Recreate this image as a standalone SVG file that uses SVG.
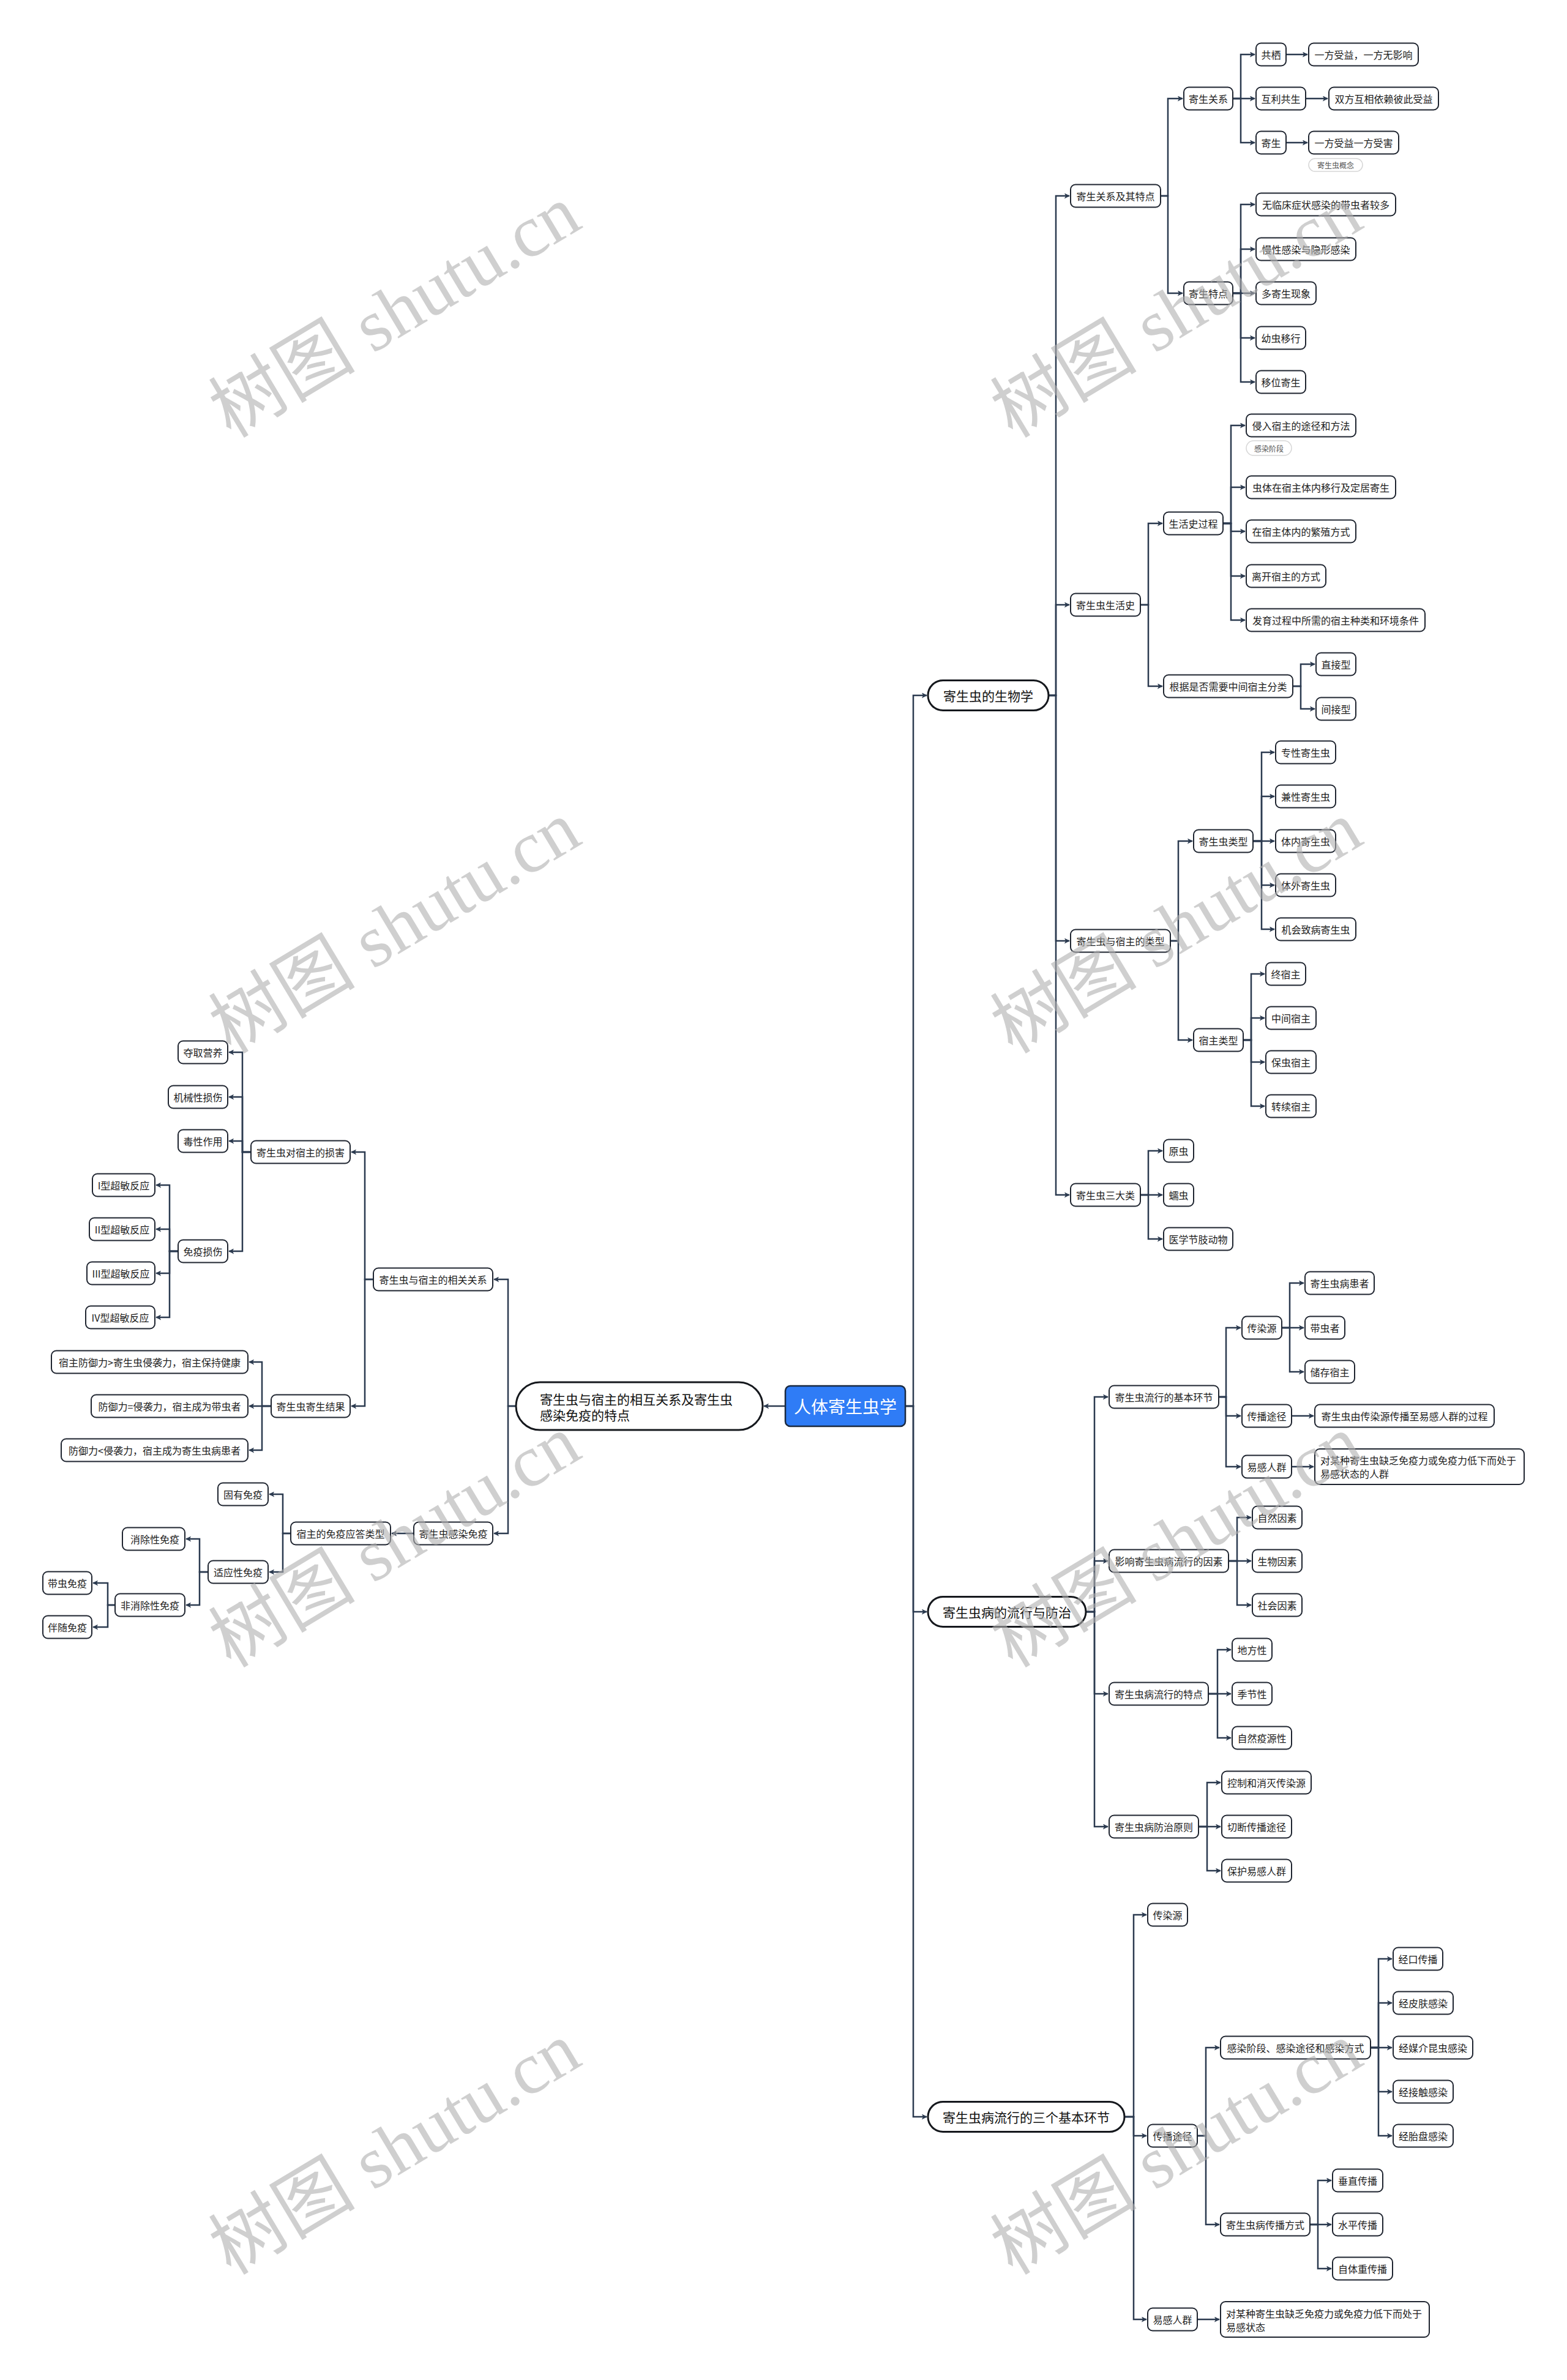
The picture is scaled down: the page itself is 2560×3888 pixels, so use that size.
<svg xmlns="http://www.w3.org/2000/svg" width="2560" height="3888" viewBox="0 0 2560 3888">
<style>
.n{fill:#fff;stroke:#1f2530;stroke-width:2}
.p{fill:#fff;stroke:#15181d;stroke-width:3}
.t{font-family:"Noto Sans CJK SC","Noto Sans",sans-serif;font-size:16px;fill:#1c1c1c;text-anchor:middle;dominant-baseline:central}
.tl{font-family:"Noto Sans CJK SC","Noto Sans",sans-serif;font-size:16px;fill:#1c1c1c;dominant-baseline:central}
.pt{font-family:"Noto Sans CJK SC","Noto Sans",sans-serif;font-size:21px;fill:#111;text-anchor:middle;dominant-baseline:central}
.tag{fill:#fff;stroke:#d6d6d6;stroke-width:1.5}
.tt{font-family:"Noto Sans CJK SC","Noto Sans",sans-serif;font-size:12px;fill:#555;text-anchor:middle;dominant-baseline:central}
.c path{fill:none;stroke:#2b3a4f;stroke-width:2.5}
.wm{font-family:"Liberation Serif","Noto Sans CJK SC",serif;font-size:120px;fill:#b0b0b0;opacity:0.6;text-anchor:middle;dominant-baseline:central}
</style>
<defs>
<marker id="a" viewBox="0 0 10 10" refX="9" refY="5" markerWidth="9" markerHeight="9" markerUnits="userSpaceOnUse" orient="auto">
<path d="M0,0 L10,5 L0,10 L2.5,5 Z" fill="#2b3a4f"/>
</marker>
</defs>
<rect width="2560" height="3888" fill="#fff"/>

<g id="connectors" class="c">
<path marker-end="url(#a)" d="M1479,2297 H1492 V1136 H1514"/>
<path marker-end="url(#a)" d="M1479,2297 H1492 V2633 H1514"/>
<path marker-end="url(#a)" d="M1479,2297 H1492 V3458 H1514"/>
<path marker-end="url(#a)" d="M1713,1136 H1725 V320 H1747"/>
<path marker-end="url(#a)" d="M1713,1136 H1725 V988 H1747"/>
<path marker-end="url(#a)" d="M1713,1136 H1725 V1537 H1747"/>
<path marker-end="url(#a)" d="M1713,1136 H1725 V1952 H1747"/>
<path marker-end="url(#a)" d="M1896,320 H1908 V161 H1932"/>
<path marker-end="url(#a)" d="M1896,320 H1908 V479 H1932"/>
<path marker-end="url(#a)" d="M2014,161 H2027 V89 H2050"/>
<path marker-end="url(#a)" d="M2014,161 H2050"/>
<path marker-end="url(#a)" d="M2014,161 H2027 V233 H2050"/>
<path marker-end="url(#a)" d="M2101,89 H2136"/>
<path marker-end="url(#a)" d="M2133,161 H2169"/>
<path marker-end="url(#a)" d="M2101,233 H2136"/>
<path marker-end="url(#a)" d="M2014,479 H2027 V334 H2050"/>
<path marker-end="url(#a)" d="M2014,479 H2027 V407 H2050"/>
<path marker-end="url(#a)" d="M2014,479 H2050"/>
<path marker-end="url(#a)" d="M2014,479 H2027 V552 H2050"/>
<path marker-end="url(#a)" d="M2014,479 H2027 V624 H2050"/>
<path marker-end="url(#a)" d="M1863,988 H1876 V855 H1899"/>
<path marker-end="url(#a)" d="M1863,988 H1876 V1121 H1899"/>
<path marker-end="url(#a)" d="M1998,855 H2011 V695 H2034"/>
<path marker-end="url(#a)" d="M1998,855 H2011 V796 H2034"/>
<path marker-end="url(#a)" d="M1998,855 H2011 V868 H2034"/>
<path marker-end="url(#a)" d="M1998,855 H2011 V941 H2034"/>
<path marker-end="url(#a)" d="M1998,855 H2011 V1013 H2034"/>
<path marker-end="url(#a)" d="M2112,1121 H2125 V1085 H2148"/>
<path marker-end="url(#a)" d="M2112,1121 H2125 V1158 H2148"/>
<path marker-end="url(#a)" d="M1912,1537 H1925 V1374 H1948"/>
<path marker-end="url(#a)" d="M1912,1537 H1925 V1699 H1948"/>
<path marker-end="url(#a)" d="M2047,1374 H2061 V1229 H2082"/>
<path marker-end="url(#a)" d="M2047,1374 H2061 V1301 H2082"/>
<path marker-end="url(#a)" d="M2047,1374 H2082"/>
<path marker-end="url(#a)" d="M2047,1374 H2061 V1446 H2082"/>
<path marker-end="url(#a)" d="M2047,1374 H2061 V1518 H2082"/>
<path marker-end="url(#a)" d="M2031,1699 H2044 V1591 H2066"/>
<path marker-end="url(#a)" d="M2031,1699 H2044 V1663 H2066"/>
<path marker-end="url(#a)" d="M2031,1699 H2044 V1735 H2066"/>
<path marker-end="url(#a)" d="M2031,1699 H2044 V1807 H2066"/>
<path marker-end="url(#a)" d="M1863,1952 H1876 V1880 H1899"/>
<path marker-end="url(#a)" d="M1863,1952 H1899"/>
<path marker-end="url(#a)" d="M1863,1952 H1876 V2024 H1899"/>
<path marker-end="url(#a)" d="M1774,2633 H1788 V2282 H1810"/>
<path marker-end="url(#a)" d="M1774,2633 H1788 V2550 H1810"/>
<path marker-end="url(#a)" d="M1774,2633 H1788 V2767 H1810"/>
<path marker-end="url(#a)" d="M1774,2633 H1788 V2984 H1810"/>
<path marker-end="url(#a)" d="M1991,2282 H2003 V2169 H2027"/>
<path marker-end="url(#a)" d="M1991,2282 H2003 V2313 H2027"/>
<path marker-end="url(#a)" d="M1991,2282 H2003 V2396 H2027"/>
<path marker-end="url(#a)" d="M2094,2169 H2107 V2096 H2130"/>
<path marker-end="url(#a)" d="M2094,2169 H2130"/>
<path marker-end="url(#a)" d="M2094,2169 H2107 V2241 H2130"/>
<path marker-end="url(#a)" d="M2110,2313 H2146"/>
<path marker-end="url(#a)" d="M2110,2396 H2146"/>
<path marker-end="url(#a)" d="M2007,2550 H2021 V2479 H2044"/>
<path marker-end="url(#a)" d="M2007,2550 H2044"/>
<path marker-end="url(#a)" d="M2007,2550 H2021 V2622 H2044"/>
<path marker-end="url(#a)" d="M1974,2767 H1989 V2695 H2011"/>
<path marker-end="url(#a)" d="M1974,2767 H2011"/>
<path marker-end="url(#a)" d="M1974,2767 H1989 V2839 H2011"/>
<path marker-end="url(#a)" d="M1958,2984 H1972 V2912 H1994"/>
<path marker-end="url(#a)" d="M1958,2984 H1994"/>
<path marker-end="url(#a)" d="M1958,2984 H1972 V3056 H1994"/>
<path marker-end="url(#a)" d="M1837,3458 H1852 V3128 H1873"/>
<path marker-end="url(#a)" d="M1837,3458 H1852 V3489 H1873"/>
<path marker-end="url(#a)" d="M1837,3458 H1852 V3789 H1873"/>
<path marker-end="url(#a)" d="M1956,3489 H1970 V3345 H1992"/>
<path marker-end="url(#a)" d="M1956,3489 H1970 V3634 H1992"/>
<path marker-end="url(#a)" d="M2239,3345 H2252 V3200 H2274"/>
<path marker-end="url(#a)" d="M2239,3345 H2252 V3272 H2274"/>
<path marker-end="url(#a)" d="M2239,3345 H2274"/>
<path marker-end="url(#a)" d="M2239,3345 H2252 V3417 H2274"/>
<path marker-end="url(#a)" d="M2239,3345 H2252 V3489 H2274"/>
<path marker-end="url(#a)" d="M2140,3634 H2153 V3562 H2175"/>
<path marker-end="url(#a)" d="M2140,3634 H2175"/>
<path marker-end="url(#a)" d="M2140,3634 H2153 V3706 H2175"/>
<path marker-end="url(#a)" d="M1956,3789 H1992"/>
<path marker-end="url(#a)" d="M1283,2297 H1248"/>
<path marker-end="url(#a)" d="M843,2297 H830 V2090 H807"/>
<path marker-end="url(#a)" d="M843,2297 H830 V2505 H807"/>
<path marker-end="url(#a)" d="M610,2090 H596 V1882 H574"/>
<path marker-end="url(#a)" d="M610,2090 H596 V2297 H574"/>
<path marker-end="url(#a)" d="M410,1882 H396 V1719 H374"/>
<path marker-end="url(#a)" d="M410,1882 H396 V1792 H374"/>
<path marker-end="url(#a)" d="M410,1882 H396 V1864 H374"/>
<path marker-end="url(#a)" d="M410,1882 H396 V2044 H374"/>
<path marker-end="url(#a)" d="M291,2044 H277 V1936 H255"/>
<path marker-end="url(#a)" d="M291,2044 H277 V2008 H255"/>
<path marker-end="url(#a)" d="M291,2044 H277 V2080 H255"/>
<path marker-end="url(#a)" d="M291,2044 H277 V2152 H255"/>
<path marker-end="url(#a)" d="M443,2297 H428 V2225 H407"/>
<path marker-end="url(#a)" d="M443,2297 H407"/>
<path marker-end="url(#a)" d="M443,2297 H428 V2369 H407"/>
<path marker-end="url(#a)" d="M676,2505 H640"/>
<path marker-end="url(#a)" d="M475,2505 H462 V2441 H440"/>
<path marker-end="url(#a)" d="M475,2505 H462 V2568 H440"/>
<path marker-end="url(#a)" d="M340,2568 H326 V2514 H304"/>
<path marker-end="url(#a)" d="M340,2568 H326 V2622 H304"/>
<path marker-end="url(#a)" d="M188,2622 H176 V2586 H152"/>
<path marker-end="url(#a)" d="M188,2622 H176 V2658 H152"/>
</g>

<g id="root"><rect x="1283" y="2264" width="196" height="66" rx="8" fill="#2f7cf6" stroke="#1b2a40" stroke-width="2.5"/><text x="1381" y="2297" style="font-family:'Noto Sans CJK SC',sans-serif;font-size:28px;fill:#fff;text-anchor:middle;dominant-baseline:central">人体寄生虫学</text></g>

<g id="p1"><rect class="p" x="1516" y="1111.5" width="197" height="49" rx="24.5"/><text class="pt" x="1614.5" y="1136">寄生虫的生物学</text></g>
<g id="p2"><rect class="p" x="1516" y="2608.5" width="258" height="49" rx="24.5"/><text class="pt" x="1645" y="2633">寄生虫病的流行与防治</text></g>
<g id="p3"><rect class="p" x="1516" y="3433.5" width="321" height="49" rx="24.5"/><text class="pt" x="1676.5" y="3458">寄生虫病流行的三个基本环节</text></g>
<g id="pL"><rect class="p" x="843" y="2258" width="403" height="78" rx="39"/><text class="pt" x="882" y="2285" style="text-anchor:start">寄生虫与宿主的相互关系及寄生虫</text><text class="pt" x="882" y="2311" style="text-anchor:start">感染免疫的特点</text></g>

<g id="n1"><rect class="n" x="1749" y="301.5" width="147" height="37" rx="8"/><text class="t" x="1822.5" y="320">寄生关系及其特点</text></g>
<g id="n2"><rect class="n" x="1749" y="969.5" width="114" height="37" rx="8"/><text class="t" x="1806" y="988">寄生虫生活史</text></g>
<g id="n3"><rect class="n" x="1749" y="1518.5" width="163" height="37" rx="8"/><text class="t" x="1830.5" y="1537">寄生虫与宿主的类型</text></g>
<g id="n4"><rect class="n" x="1749" y="1933.5" width="114" height="37" rx="8"/><text class="t" x="1806" y="1952">寄生虫三大类</text></g>

<g id="n1a"><rect class="n" x="1934" y="142.5" width="80" height="37" rx="8"/><text class="t" x="1974" y="161">寄生关系</text></g>
<g id="n1b"><rect class="n" x="1934" y="460.5" width="80" height="37" rx="8"/><text class="t" x="1974" y="479">寄生特点</text></g>
<g id="n1a1"><rect class="n" x="2052" y="70.5" width="49" height="37" rx="8"/><text class="t" x="2076.5" y="89">共栖</text></g>
<g id="n1a1x"><rect class="n" x="2138" y="70.5" width="179" height="37" rx="8"/><text class="t" x="2227.5" y="89">一方受益，一方无影响</text></g>
<g id="n1a2"><rect class="n" x="2052" y="142.5" width="81" height="37" rx="8"/><text class="t" x="2092.5" y="161">互利共生</text></g>
<g id="n1a2x"><rect class="n" x="2171" y="142.5" width="179" height="37" rx="8"/><text class="t" x="2260.5" y="161">双方互相依赖彼此受益</text></g>
<g id="n1a3"><rect class="n" x="2052" y="214.5" width="49" height="37" rx="8"/><text class="t" x="2076.5" y="233">寄生</text></g>
<g id="n1a3x"><rect class="n" x="2138" y="214.5" width="147" height="37" rx="8"/><text class="t" x="2211.5" y="233">一方受益一方受害</text><rect class="tag" x="2138" y="259" width="88" height="21" rx="10.5"/><text class="tt" x="2182" y="269.5">寄生虫概念</text></g>
<g id="n1b1"><rect class="n" x="2052" y="315.5" width="228" height="37" rx="8"/><text class="t" x="2166" y="334">无临床症状感染的带虫者较多</text></g>
<g id="n1b2"><rect class="n" x="2052" y="388.5" width="163" height="37" rx="8"/><text class="t" x="2133.5" y="407">慢性感染与隐形感染</text></g>
<g id="n1b3"><rect class="n" x="2052" y="460.5" width="98" height="37" rx="8"/><text class="t" x="2101" y="479">多寄生现象</text></g>
<g id="n1b4"><rect class="n" x="2052" y="533.5" width="81" height="37" rx="8"/><text class="t" x="2092.5" y="552">幼虫移行</text></g>
<g id="n1b5"><rect class="n" x="2052" y="605.5" width="81" height="37" rx="8"/><text class="t" x="2092.5" y="624">移位寄生</text></g>

<g id="n2a"><rect class="n" x="1901" y="836.5" width="97" height="37" rx="8"/><text class="t" x="1949.5" y="855">生活史过程</text></g>
<g id="n2b"><rect class="n" x="1901" y="1102.5" width="211" height="37" rx="8"/><text class="t" x="2006.5" y="1121">根据是否需要中间宿主分类</text></g>
<g id="n2a1"><rect class="n" x="2036" y="676.5" width="179" height="37" rx="8"/><text class="t" x="2125.5" y="695">侵入宿主的途径和方法</text><rect class="tag" x="2036" y="720" width="74" height="24" rx="12"/><text class="tt" x="2073" y="732">感染阶段</text></g>
<g id="n2a2"><rect class="n" x="2036" y="777.5" width="244" height="37" rx="8"/><text class="t" x="2158" y="796">虫体在宿主体内移行及定居寄生</text></g>
<g id="n2a3"><rect class="n" x="2036" y="849.5" width="179" height="37" rx="8"/><text class="t" x="2125.5" y="868">在宿主体内的繁殖方式</text></g>
<g id="n2a4"><rect class="n" x="2036" y="922.5" width="130" height="37" rx="8"/><text class="t" x="2101" y="941">离开宿主的方式</text></g>
<g id="n2a5"><rect class="n" x="2036" y="994.5" width="292" height="37" rx="8"/><text class="t" x="2182" y="1013">发育过程中所需的宿主种类和环境条件</text></g>
<g id="n2b1"><rect class="n" x="2150" y="1066.5" width="65" height="37" rx="8"/><text class="t" x="2182.5" y="1085">直接型</text></g>
<g id="n2b2"><rect class="n" x="2150" y="1139.5" width="65" height="37" rx="8"/><text class="t" x="2182.5" y="1158">间接型</text></g>

<g id="n3a"><rect class="n" x="1950" y="1355.5" width="97" height="37" rx="8"/><text class="t" x="1998.5" y="1374">寄生虫类型</text></g>
<g id="n3b"><rect class="n" x="1950" y="1680.5" width="81" height="37" rx="8"/><text class="t" x="1990.5" y="1699">宿主类型</text></g>
<g id="n3a1"><rect class="n" x="2084" y="1210.5" width="98" height="37" rx="8"/><text class="t" x="2133" y="1229">专性寄生虫</text></g>
<g id="n3a2"><rect class="n" x="2084" y="1282.5" width="98" height="37" rx="8"/><text class="t" x="2133" y="1301">兼性寄生虫</text></g>
<g id="n3a3"><rect class="n" x="2084" y="1355.5" width="98" height="37" rx="8"/><text class="t" x="2133" y="1374">体内寄生虫</text></g>
<g id="n3a4"><rect class="n" x="2084" y="1427.5" width="98" height="37" rx="8"/><text class="t" x="2133" y="1446">体外寄生虫</text></g>
<g id="n3a5"><rect class="n" x="2084" y="1499.5" width="131" height="37" rx="8"/><text class="t" x="2149.5" y="1518">机会致病寄生虫</text></g>
<g id="n3b1"><rect class="n" x="2068" y="1572.5" width="65" height="37" rx="8"/><text class="t" x="2100.5" y="1591">终宿主</text></g>
<g id="n3b2"><rect class="n" x="2068" y="1644.5" width="82" height="37" rx="8"/><text class="t" x="2109" y="1663">中间宿主</text></g>
<g id="n3b3"><rect class="n" x="2068" y="1716.5" width="82" height="37" rx="8"/><text class="t" x="2109" y="1735">保虫宿主</text></g>
<g id="n3b4"><rect class="n" x="2068" y="1788.5" width="82" height="37" rx="8"/><text class="t" x="2109" y="1807">转续宿主</text></g>

<g id="n4a"><rect class="n" x="1901" y="1861.5" width="49" height="37" rx="8"/><text class="t" x="1925.5" y="1880">原虫</text></g>
<g id="n4b"><rect class="n" x="1901" y="1933.5" width="49" height="37" rx="8"/><text class="t" x="1925.5" y="1952">蠕虫</text></g>
<g id="n4c"><rect class="n" x="1901" y="2005.5" width="113" height="37" rx="8"/><text class="t" x="1957.5" y="2024">医学节肢动物</text></g>

<g id="m1"><rect class="n" x="1812" y="2263.5" width="179" height="37" rx="8"/><text class="t" x="1901.5" y="2282">寄生虫流行的基本环节</text></g>
<g id="m2"><rect class="n" x="1812" y="2531.5" width="195" height="37" rx="8"/><text class="t" x="1909.5" y="2550">影响寄生虫病流行的因素</text></g>
<g id="m3"><rect class="n" x="1812" y="2748.5" width="162" height="37" rx="8"/><text class="t" x="1893" y="2767">寄生虫病流行的特点</text></g>
<g id="m4"><rect class="n" x="1812" y="2965.5" width="146" height="37" rx="8"/><text class="t" x="1885" y="2984">寄生虫病防治原则</text></g>
<g id="m1a"><rect class="n" x="2029" y="2150.5" width="65" height="37" rx="8"/><text class="t" x="2061.5" y="2169">传染源</text></g>
<g id="m1b"><rect class="n" x="2029" y="2294.5" width="81" height="37" rx="8"/><text class="t" x="2069.5" y="2313">传播途径</text></g>
<g id="m1c"><rect class="n" x="2029" y="2377.5" width="81" height="37" rx="8"/><text class="t" x="2069.5" y="2396">易感人群</text></g>
<g id="m1a1"><rect class="n" x="2132" y="2077.5" width="113" height="37" rx="8"/><text class="t" x="2188.5" y="2096">寄生虫病患者</text></g>
<g id="m1a2"><rect class="n" x="2132" y="2150.5" width="65" height="37" rx="8"/><text class="t" x="2164.5" y="2169">带虫者</text></g>
<g id="m1a3"><rect class="n" x="2132" y="2222.5" width="81" height="37" rx="8"/><text class="t" x="2172.5" y="2241">储存宿主</text></g>
<g id="m1b1"><rect class="n" x="2148" y="2294.5" width="293" height="37" rx="8"/><text class="t" x="2294.5" y="2313">寄生虫由传染源传播至易感人群的过程</text></g>
<g id="m1c1"><rect class="n" x="2148" y="2367" width="342" height="58" rx="8"/><text class="tl" x="2157" y="2385">对某种寄生虫缺乏免疫力或免疫力低下而处于</text><text class="tl" x="2157" y="2407">易感状态的人群</text></g>
<g id="m2a"><rect class="n" x="2046" y="2460.5" width="81" height="37" rx="8"/><text class="t" x="2086.5" y="2479">自然因素</text></g>
<g id="m2b"><rect class="n" x="2046" y="2531.5" width="81" height="37" rx="8"/><text class="t" x="2086.5" y="2550">生物因素</text></g>
<g id="m2c"><rect class="n" x="2046" y="2603.5" width="81" height="37" rx="8"/><text class="t" x="2086.5" y="2622">社会因素</text></g>
<g id="m3a"><rect class="n" x="2013" y="2676.5" width="65" height="37" rx="8"/><text class="t" x="2045.5" y="2695">地方性</text></g>
<g id="m3b"><rect class="n" x="2013" y="2748.5" width="65" height="37" rx="8"/><text class="t" x="2045.5" y="2767">季节性</text></g>
<g id="m3c"><rect class="n" x="2013" y="2820.5" width="97" height="37" rx="8"/><text class="t" x="2061.5" y="2839">自然疫源性</text></g>
<g id="m4a"><rect class="n" x="1996" y="2893.5" width="146" height="37" rx="8"/><text class="t" x="2069" y="2912">控制和消灭传染源</text></g>
<g id="m4b"><rect class="n" x="1996" y="2965.5" width="114" height="37" rx="8"/><text class="t" x="2053" y="2984">切断传播途径</text></g>
<g id="m4c"><rect class="n" x="1996" y="3037.5" width="114" height="37" rx="8"/><text class="t" x="2053" y="3056">保护易感人群</text></g>

<g id="k1"><rect class="n" x="1875" y="3109.5" width="65" height="37" rx="8"/><text class="t" x="1907.5" y="3128">传染源</text></g>
<g id="k2"><rect class="n" x="1875" y="3470.5" width="81" height="37" rx="8"/><text class="t" x="1915.5" y="3489">传播途径</text></g>
<g id="k3"><rect class="n" x="1875" y="3770.5" width="81" height="37" rx="8"/><text class="t" x="1915.5" y="3789">易感人群</text></g>
<g id="k2a"><rect class="n" x="1994" y="3326.5" width="245" height="37" rx="8"/><text class="t" x="2116.5" y="3345">感染阶段、感染途径和感染方式</text></g>
<g id="k2b"><rect class="n" x="1994" y="3615.5" width="146" height="37" rx="8"/><text class="t" x="2067" y="3634">寄生虫病传播方式</text></g>
<g id="k2a1"><rect class="n" x="2276" y="3181.5" width="81" height="37" rx="8"/><text class="t" x="2316.5" y="3200">经口传播</text></g>
<g id="k2a2"><rect class="n" x="2276" y="3253.5" width="98" height="37" rx="8"/><text class="t" x="2325" y="3272">经皮肤感染</text></g>
<g id="k2a3"><rect class="n" x="2276" y="3326.5" width="130" height="37" rx="8"/><text class="t" x="2341" y="3345">经媒介昆虫感染</text></g>
<g id="k2a4"><rect class="n" x="2276" y="3398.5" width="98" height="37" rx="8"/><text class="t" x="2325" y="3417">经接触感染</text></g>
<g id="k2a5"><rect class="n" x="2276" y="3470.5" width="98" height="37" rx="8"/><text class="t" x="2325" y="3489">经胎盘感染</text></g>
<g id="k2b1"><rect class="n" x="2177" y="3543.5" width="82" height="37" rx="8"/><text class="t" x="2218" y="3562">垂直传播</text></g>
<g id="k2b2"><rect class="n" x="2177" y="3615.5" width="82" height="37" rx="8"/><text class="t" x="2218" y="3634">水平传播</text></g>
<g id="k2b3"><rect class="n" x="2177" y="3687.5" width="98" height="37" rx="8"/><text class="t" x="2226" y="3706">自体重传播</text></g>
<g id="k3a"><rect class="n" x="1994" y="3760" width="341" height="58" rx="8"/><text class="tl" x="2003" y="3779">对某种寄生虫缺乏免疫力或免疫力低下而处于</text><text class="tl" x="2003" y="3801">易感状态</text></g>

<g id="L1"><rect class="n" x="610" y="2071.5" width="195" height="37" rx="8"/><text class="t" x="707.5" y="2090">寄生虫与宿主的相关关系</text></g>
<g id="L2"><rect class="n" x="676" y="2486.5" width="129" height="37" rx="8"/><text class="t" x="740.5" y="2505">寄生虫感染免疫</text></g>
<g id="L1a"><rect class="n" x="410" y="1863.5" width="162" height="37" rx="8"/><text class="t" x="491" y="1882">寄生虫对宿主的损害</text></g>
<g id="L1b"><rect class="n" x="443" y="2278.5" width="129" height="37" rx="8"/><text class="t" x="507.5" y="2297">寄生虫寄生结果</text></g>
<g id="L1a1"><rect class="n" x="291" y="1700.5" width="81" height="37" rx="8"/><text class="t" x="331.5" y="1719">夺取营养</text></g>
<g id="L1a2"><rect class="n" x="275" y="1773.5" width="97" height="37" rx="8"/><text class="t" x="323.5" y="1792">机械性损伤</text></g>
<g id="L1a3"><rect class="n" x="291" y="1845.5" width="81" height="37" rx="8"/><text class="t" x="331.5" y="1864">毒性作用</text></g>
<g id="L1a4"><rect class="n" x="291" y="2025.5" width="81" height="37" rx="8"/><text class="t" x="331.5" y="2044">免疫损伤</text></g>
<g id="L1a4a"><rect class="n" x="151" y="1917.5" width="102" height="37" rx="8"/><text class="t" x="202" y="1936">I型超敏反应</text></g>
<g id="L1a4b"><rect class="n" x="146" y="1989.5" width="107" height="37" rx="8"/><text class="t" x="199.5" y="2008">II型超敏反应</text></g>
<g id="L1a4c"><rect class="n" x="142" y="2061.5" width="111" height="37" rx="8"/><text class="t" x="197.5" y="2080">III型超敏反应</text></g>
<g id="L1a4d"><rect class="n" x="140" y="2133.5" width="113" height="37" rx="8"/><text class="t" x="196.5" y="2152">IV型超敏反应</text></g>
<g id="L1b1"><rect class="n" x="84" y="2206.5" width="321" height="37" rx="8"/><text class="t" x="244.5" y="2225">宿主防御力&gt;寄生虫侵袭力，宿主保持健康</text></g>
<g id="L1b2"><rect class="n" x="149" y="2278.5" width="256" height="37" rx="8"/><text class="t" x="277" y="2297">防御力=侵袭力，宿主成为带虫者</text></g>
<g id="L1b3"><rect class="n" x="100" y="2350.5" width="305" height="37" rx="8"/><text class="t" x="252.5" y="2369">防御力&lt;侵袭力，宿主成为寄生虫病患者</text></g>
<g id="L2a"><rect class="n" x="475" y="2486.5" width="163" height="37" rx="8"/><text class="t" x="556.5" y="2505">宿主的免疫应答类型</text></g>
<g id="L2a1"><rect class="n" x="356" y="2422.5" width="82" height="37" rx="8"/><text class="t" x="397" y="2441">固有免疫</text></g>
<g id="L2a2"><rect class="n" x="340" y="2549.5" width="98" height="37" rx="8"/><text class="t" x="389" y="2568">适应性免疫</text></g>
<g id="L2a2a"><rect class="n" x="200" y="2495.5" width="102" height="37" rx="8"/><text class="t" x="253" y="2514">消除性免疫</text></g>
<g id="L2a2b"><rect class="n" x="188" y="2603.5" width="114" height="37" rx="8"/><text class="t" x="245" y="2622">非消除性免疫</text></g>
<g id="L2a2b1"><rect class="n" x="70" y="2567.5" width="80" height="37" rx="8"/><text class="t" x="110" y="2586">带虫免疫</text></g>
<g id="L2a2b2"><rect class="n" x="70" y="2639.5" width="80" height="37" rx="8"/><text class="t" x="110" y="2658">伴随免疫</text></g>

<g id="watermark">
<text class="wm" transform="translate(645,509) rotate(-31)">树图 shutu.cn</text>
<text class="wm" transform="translate(1922,509) rotate(-31)">树图 shutu.cn</text>
<text class="wm" transform="translate(645,1515) rotate(-31)">树图 shutu.cn</text>
<text class="wm" transform="translate(1922,1515) rotate(-31)">树图 shutu.cn</text>
<text class="wm" transform="translate(645,2518) rotate(-31)">树图 shutu.cn</text>
<text class="wm" transform="translate(1922,2518) rotate(-31)">树图 shutu.cn</text>
<text class="wm" transform="translate(645,3510) rotate(-31)">树图 shutu.cn</text>
<text class="wm" transform="translate(1922,3510) rotate(-31)">树图 shutu.cn</text>
</g>
</svg>
